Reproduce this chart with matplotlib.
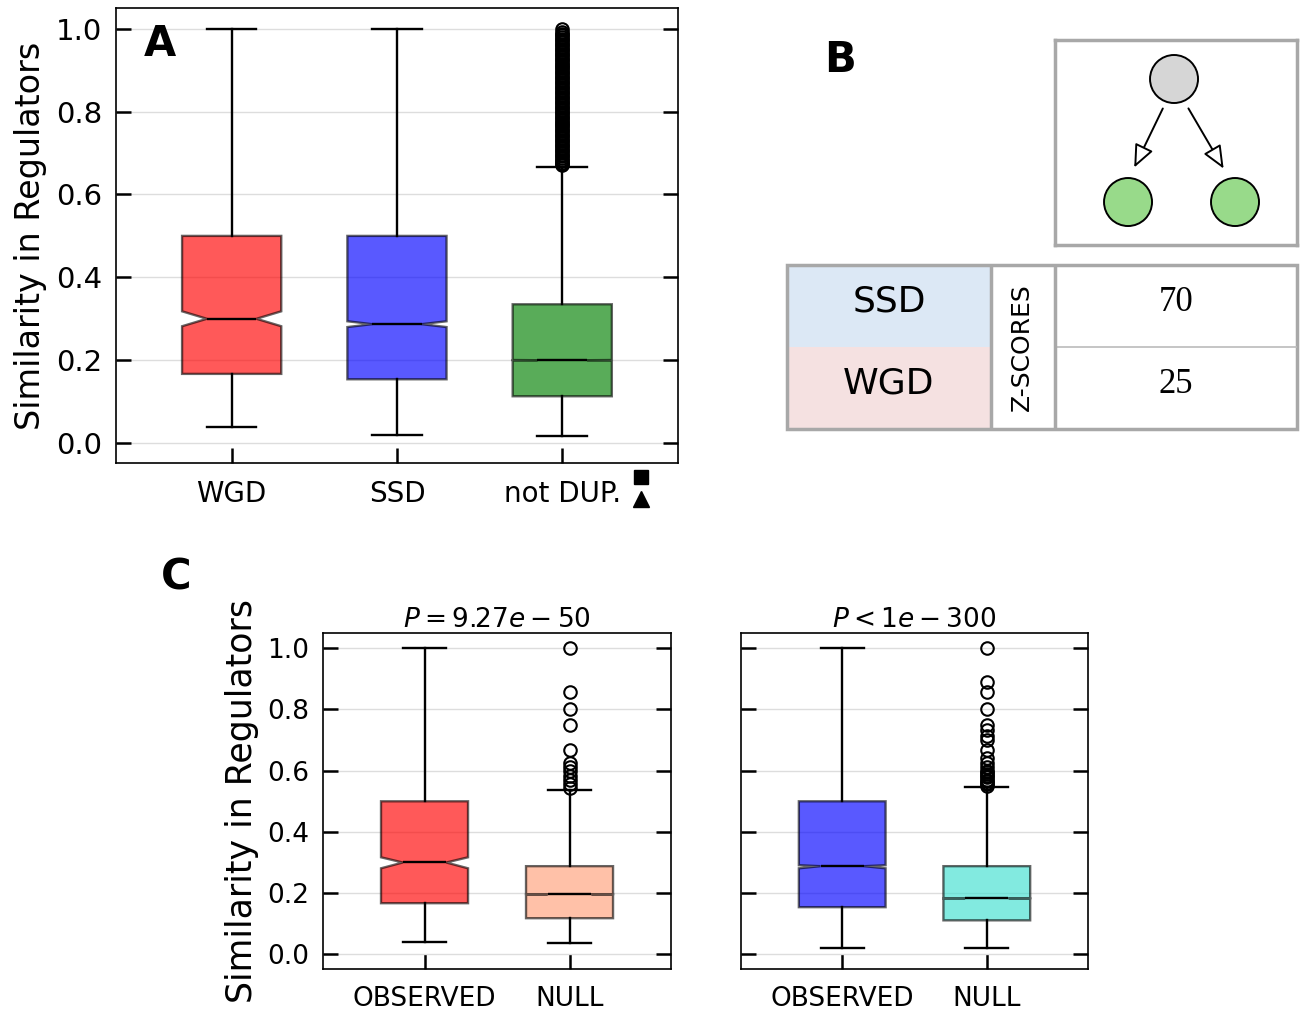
import numpy as np
import matplotlib as mpl
mpl.use('Agg')
import matplotlib.pyplot as plt
from matplotlib.colors import to_rgba
from matplotlib.patches import Circle, Rectangle

# panel A data
groups_a = ['WGD', 'SSD', 'not DUP.']
colors_a = ['red', 'blue', 'green']
q1_a = [0.167, 0.154, 0.113]
med_a = [0.300, 0.287, 0.200]
q3_a = [0.500, 0.500, 0.335]
lo_a = [0.038, 0.019, 0.017]
hi_a = [1.0, 1.0, 0.667]
cilo_a = [0.282, 0.280, 0.1995]
cihi_a = [0.318, 0.294, 0.2005]
fliers_a = [[], [],
            [0.670, 0.673, 0.676, 0.68, 0.684, 0.688, 0.692, 0.696, 0.70, 0.704,
             0.708, 0.712, 0.716, 0.72, 0.724, 0.728, 0.732, 0.736, 0.74, 0.744,
             0.748, 0.752, 0.756, 0.76, 0.764, 0.768, 0.772, 0.776, 0.78, 0.784,
             0.788, 0.792, 0.796, 0.80, 0.804, 0.808, 0.812, 0.816, 0.82, 0.824,
             0.828, 0.832, 0.836, 0.84, 0.844, 0.848, 0.852, 0.856, 0.86, 0.864,
             0.868, 0.872, 0.876, 0.88, 0.884, 0.888, 0.892, 0.896, 0.90, 0.904,
             0.908, 0.912, 0.916, 0.92, 0.924, 0.928, 0.932, 0.936, 0.94, 0.944,
             0.948, 0.952, 0.956, 0.96, 0.964, 0.968, 0.972, 0.976, 0.98, 0.984,
             0.988, 0.992, 1.0]]

# panel B data
table_rows = ['SSD', 'WGD']
table_colors = ['#dce8f5', '#f5e1e1']
zscores = [70, 25]

# panel C data
labels_c = ['OBSERVED', 'NULL']
titles_c = [r'$P = 9.27e-50$', r'$P < 1e-300$']
colors_c = [['red', 'lightsalmon'], ['blue', 'turquoise']]
q1_c = [[0.167, 0.118], [0.154, 0.111]]
med_c = [[0.300, 0.196], [0.288, 0.183]]
q3_c = [[0.500, 0.288], [0.500, 0.288]]
lo_c = [[0.039, 0.036], [0.020, 0.020]]
hi_c = [[1.0, 0.536], [1.0, 0.546]]
cilo_c = [[0.281, 0.1955], [0.281, 0.1825]]
cihi_c = [[0.317, 0.1965], [0.291, 0.1835]]
fliers_c = [[[], [1.0, 0.857, 0.8, 0.75, 0.667, 0.625, 0.611, 0.6, 0.583, 0.571, 0.556, 0.545]],
            [[], [1.0, 0.889, 0.857, 0.8, 0.75, 0.733, 0.714, 0.7, 0.667, 0.643, 0.625,
                  0.611, 0.6, 0.595, 0.588, 0.583, 0.579, 0.571, 0.565, 0.56, 0.556, 0.55]]]

yticks = [0.0, 0.2, 0.4, 0.6, 0.8, 1.0]


def draw_boxes(ax, labels, colors, q1, med, q3, lo, hi, cilo, cihi, fliers):
    stats = []
    for i in range(len(labels)):
        stats.append(dict(label=labels[i], q1=q1[i], med=med[i], q3=q3[i],
                          whislo=lo[i], whishi=hi[i], cilo=cilo[i], cihi=cihi[i],
                          fliers=np.array(fliers[i])))
    bp = ax.bxp(stats, widths=0.6, patch_artist=True, shownotches=True,
                whiskerprops=dict(color='black', lw=1.7),
                capprops=dict(color='black', lw=1.7),
                medianprops=dict(color='black', lw=1.7),
                flierprops=dict(marker='o', mfc='none', mec='black', ms=9, mew=1.5))
    for patch, c in zip(bp['boxes'], colors):
        patch.set_facecolor(to_rgba(c, 0.65))
        patch.set_edgecolor(to_rgba('black', 0.6))
        patch.set_linewidth(1.7)


def style_axes(ax, labelsize_x, labelsize_y):
    ax.set_ylim(-0.048, 1.05)
    ax.set_yticks(yticks)
    ax.tick_params(axis='y', direction='in', length=11, width=1.8, right=True,
                   labelsize=labelsize_y, pad=10)
    ax.tick_params(axis='x', direction='in', length=11, width=1.8, top=False,
                   labelsize=labelsize_x, pad=12)
    ax.yaxis.grid(True, color='#dddddd', lw=1)
    ax.set_axisbelow(True)
    for s in ax.spines.values():
        s.set_linewidth(1.2)


fig = plt.figure(figsize=(13.03, 10.10), dpi=100)

# ---- A
axA = fig.add_axes([0.0890, 0.5416, 0.4313, 0.4505])
draw_boxes(axA, groups_a, colors_a, q1_a, med_a, q3_a, lo_a, hi_a, cilo_a, cihi_a, fliers_a)
style_axes(axA, 20, 21)
axA.set_xlim(0.3, 3.7)
axA.set_yticklabels(['%.1f' % v for v in yticks])
axA.set_ylabel('Similarity in Regulators', fontsize=24, labelpad=6)
axA.text(0.05, 0.92, 'A', transform=axA.transAxes, fontsize=30, fontweight='bold', va='center')
axA.plot([0.934], [-0.031], marker='s', color='black', ms=10, transform=axA.transAxes, clip_on=False)
axA.plot([0.934], [-0.08], marker='^', color='black', ms=11, transform=axA.transAxes, clip_on=False)

# ---- B diagram
axD = fig.add_axes([0.8097, 0.7574, 0.1857, 0.2030])
axD.set_xlim(1055, 1297)
axD.set_ylim(245, 40)
axD.set_xticks([])
axD.set_yticks([])
for s in axD.spines.values():
    s.set_color('#a8a8a8')
    s.set_linewidth(2.5)
axD.add_patch(Circle((1174, 79), 24, fc='#d6d6d6', ec='black', lw=1.4))
axD.add_patch(Circle((1128, 202), 24, fc='#98da8a', ec='black', lw=1.4))
axD.add_patch(Circle((1235, 202), 24, fc='#98da8a', ec='black', lw=1.4))
axD.annotate('', xy=(1133, 170), xytext=(1164, 106),
             arrowprops=dict(arrowstyle='-|>,head_length=1.4,head_width=0.6', fc='white', ec='black', lw=1.4))
axD.annotate('', xy=(1225, 171), xytext=(1187, 106),
             arrowprops=dict(arrowstyle='-|>,head_length=1.4,head_width=0.6', fc='white', ec='black', lw=1.4))
fig.text(840 / 1303, 1 - 60 / 1010, 'B', fontsize=30, fontweight='bold', ha='center', va='center')

# ---- B table
axT = fig.add_axes([787 / 1303, 1 - 429 / 1010, 510 / 1303, 164 / 1010])
axT.set_xlim(787, 1297)
axT.set_ylim(429, 265)
axT.axis('off')
row_y = [265, 347]
for i in range(len(table_rows)):
    axT.add_patch(Rectangle((787, row_y[i]), 204, 82, fc=table_colors[i], ec='none'))
    axT.text(889, row_y[i] + 37, table_rows[i], fontsize=26, ha='center', va='center')
    axT.text(1176, row_y[i] + 38, str(zscores[i]), fontsize=25, ha='center', va='center',
             family='Liberation Serif')
axT.plot([1055, 1297], [347, 347], color='#bbbbbb', lw=1.2)
axT.text(1022, 347, 'Z-SCORES', fontsize=18, rotation=90, ha='center', va='center')
axT.add_patch(Rectangle((787, 265), 510, 164, fc='none', ec='#a8a8a8', lw=2.5, clip_on=False))
axT.plot([991, 991], [265, 429], color='#a8a8a8', lw=2.5)
axT.plot([1055, 1055], [265, 429], color='#a8a8a8', lw=2.5)

# ---- C
axC1 = fig.add_axes([0.2479, 0.0406, 0.2671, 0.3327])
axC2 = fig.add_axes([0.5687, 0.0406, 0.2663, 0.3327])
for k, ax in enumerate([axC1, axC2]):
    draw_boxes(ax, labels_c, colors_c[k], q1_c[k], med_c[k], q3_c[k], lo_c[k], hi_c[k],
               cilo_c[k], cihi_c[k], fliers_c[k])
    style_axes(ax, 19, 19)
    ax.set_xlim(0.3, 2.7)
    ax.set_title(titles_c[k], fontsize=19, pad=1)
axC1.set_yticklabels(['%.1f' % v for v in yticks])
axC2.set_yticklabels([])
axC1.set_ylabel('Similarity in Regulators', fontsize=25, labelpad=6)
fig.text(176 / 1303, 1 - 578 / 1010, 'C', fontsize=30, fontweight='bold', ha='center', va='center')

fig.savefig('out.png', dpi=100)
